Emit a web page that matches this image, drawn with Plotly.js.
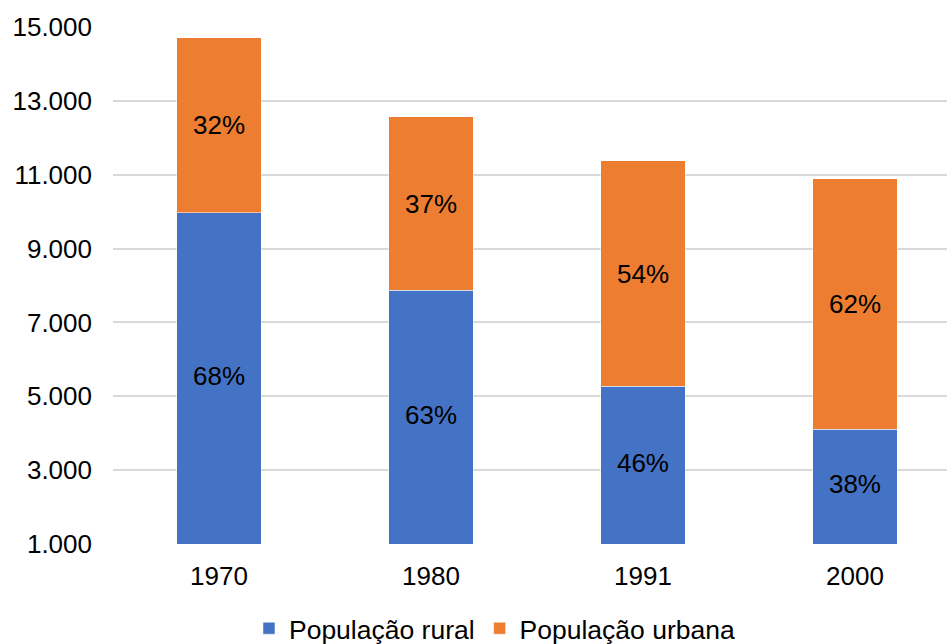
<!DOCTYPE html>
<html>
<head>
<meta charset="utf-8">
<script src="https://cdn.plot.ly/plotly-3.0.1.min.js"></script>
<style>html,body{margin:0;padding:0;background:#fff;}#chart{width:947px;height:644px;}</style>
</head>
<body>
<div id="chart"></div>
<script>
const years = ['1970', '1980', '1991', '2000'];
const rural = [9973, 7865, 5270, 4108];
const urbana = [4730, 4703, 6108, 6784];
const ruralPct = ['68%', '63%', '46%', '38%'];
const urbanaPct = ['32%', '37%', '54%', '62%'];
const yTicks = [1000, 3000, 5000, 7000, 9000, 11000, 13000, 15000];
const yTickLabels = ['1.000', '3.000', '5.000', '7.000', '9.000', '11.000', '13.000', '15.000'];
const yMin = 1000, yMax = 15000;

const font = 'Liberation Sans, Arial, sans-serif';
const traces = [
  {type: 'bar', name: 'População rural', x: years, y: rural,
   marker: {color: '#4472C4', line: {color: '#ffffff', width: 0.5}}, width: 0.4,
   hoverinfo: 'none'},
  {type: 'bar', name: 'População urbana', x: years, y: urbana, text: urbanaPct,
   textposition: 'inside', insidetextanchor: 'middle', textangle: 0,
   textfont: {family: font, size: 26, color: '#000'},
   marker: {color: '#ED7D31', line: {color: '#ffffff', width: 0.5}}, width: 0.4,
   hoverinfo: 'none'},
  // rural labels centred in the visible part of the bar (axis starts at yMin)
  {type: 'scatter', mode: 'text', x: years, y: rural.map(v => (yMin + v) / 2),
   text: ruralPct, textposition: 'middle center',
   textfont: {family: font, size: 26, color: '#000'},
   showlegend: false, hoverinfo: 'none', cliponaxis: false}
];
const layout = {
  width: 947, height: 644,
  margin: {l: 113, r: 0, t: 27, b: 100, autoexpand: false},
  barmode: 'stack',
  paper_bgcolor: '#fff', plot_bgcolor: '#fff',
  font: {family: font, size: 26, color: '#000'},
  xaxis: {type: 'category', range: [-0.5, 3.434], showgrid: false, zeroline: false,
          showline: false, ticks: '', ticklabelstandoff: 14,
          tickfont: {family: font, size: 26, color: '#000'}},
  yaxis: {range: [yMin, yMax], tickvals: yTicks, ticktext: yTickLabels,
          showgrid: true, gridcolor: '#D9D9D9', gridwidth: 2, zeroline: false,
          showline: false, ticks: '', ticklabelstandoff: 20,
          tickfont: {family: font, size: 26, color: '#000'}},
  showlegend: true,
  legend: {orientation: 'h', x: 0.458, xanchor: 'center', y: -0.117, yanchor: 'top',
           font: {family: font, size: 26.5, color: '#000'}, traceorder: 'normal'}
};
Plotly.newPlot('chart', traces, layout, {displayModeBar: false, staticPlot: true});
</script>
</body>
</html>
